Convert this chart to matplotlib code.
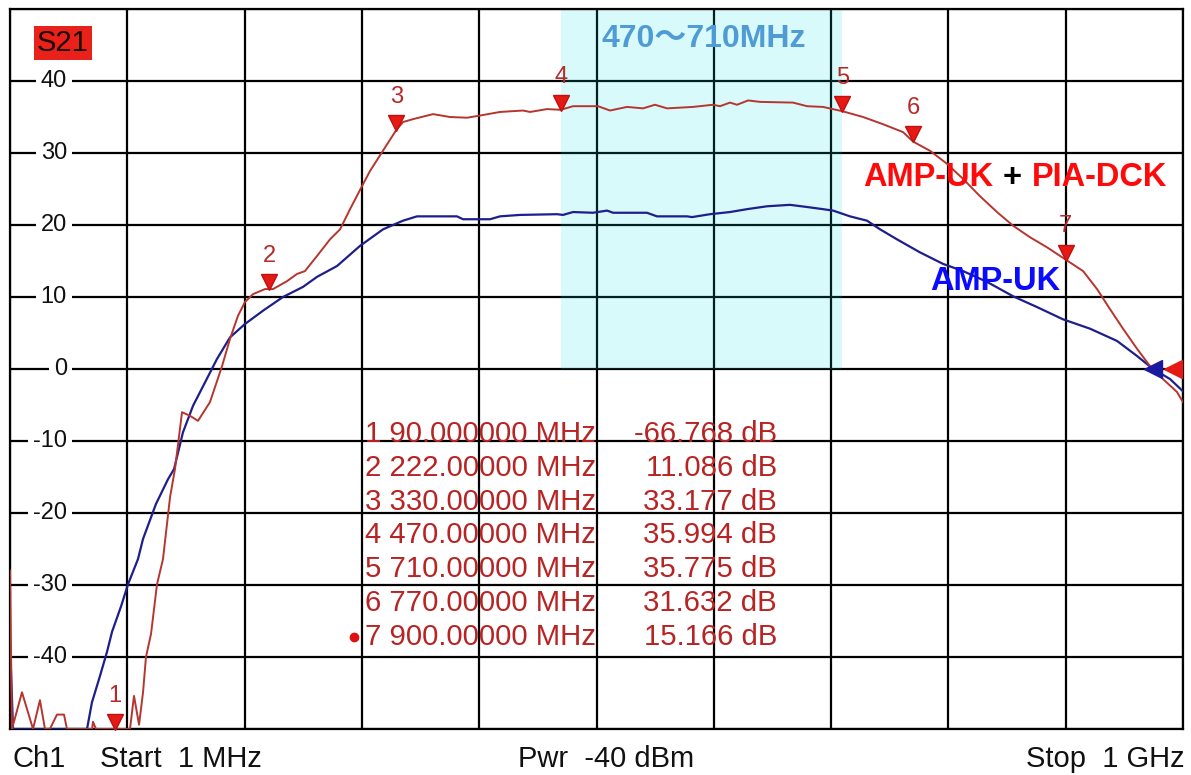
import matplotlib
matplotlib.use('Agg')
import matplotlib.pyplot as plt
import numpy as np
from matplotlib import transforms

plt.rcParams['font.family'] = ['Liberation Sans', 'Noto Sans CJK JP', 'DejaVu Sans']

# ---------------- data (MHz, dB) ----------------
red_freq = [1, 2.7, 11.2, 20.6, 26.5, 30.8, 35, 41, 47, 49.5, 70.9, 71.7, 74.2, 103.2,
            106.6, 110.9, 114.3, 116.8, 121.1, 126.2, 131.3, 137.3, 141.5, 147.5, 154.3,
            161.1, 171.3, 181.6, 188.4, 195.2, 201.1, 208, 218.2, 225, 236.9, 245.4,
            252.2, 262.5, 273.5, 282.1, 290.6, 300.8, 307.6, 317.8, 330, 335.7, 344.2,
            361.3, 375.7, 390.2, 401.3, 418.3, 437.9, 443.9, 458.4, 470, 480.5, 501.8,
            512, 526.5, 540.1, 550.3, 560.6, 582.7, 599.7, 605.7, 614.2, 620.2, 629.6,
            639.8, 667.9, 679.8, 693.4, 710, 727.5, 744.5, 761.6, 770, 784.6, 799,
            812.7, 827.1, 841.6, 855.3, 869.7, 884.2, 900, 914.9, 926.8, 937.9, 948.9,
            960.9, 971.9, 983, 994.9, 1000]
red_db = [-28, -50, -44.9, -50, -46, -50, -50, -48, -48, -50, -50, -49, -50, -50,
          -45.4, -49.4, -44.9, -40, -36.8, -29.9, -26.4, -17.8, -13.9, -6.0, -6.5,
          -7.2, -4.6, 0.4, 4.2, 7.4, 9.3, 10.4, 11.1, 11.1, 12.2, 13.2,
          13.6, 15.7, 18.0, 19.4, 22.2, 25.4, 27.5, 30.1, 33.2, 34.3, 34.7,
          35.4, 35.0, 34.9, 35.2, 35.7, 35.9, 35.7, 36.1, 36.0, 36.5, 36.5,
          35.9, 36.4, 36.2, 36.7, 36.2, 36.4, 36.7, 36.5, 37.0, 36.7, 37.3,
          37.1, 37.0, 36.5, 36.4, 35.8, 35.0, 34.0, 32.9, 31.6, 30.3, 28.5,
          26.4, 24.0, 21.8, 19.9, 18.3, 16.9, 15.2, 13.6, 11.1, 8.3, 5.6,
          2.8, 0.4, -1.4, -3.2, -4.6]

blue_freq = [1, 3.6, 66.6, 70.8, 77.7, 83.6, 87.9, 95.5, 101.5, 110, 114.3, 125.3,
             135.6, 140.7, 148.3, 156.9, 165.4, 177.3, 188.4, 201.1, 216.5, 233.5,
             250.5, 262.5, 279.5, 299.1, 318.7, 335.7, 347.6, 381.7, 386.8, 409.8,
             418.3, 435.4, 466.9, 472, 480.5, 497.5, 509.5, 514.6, 543.5, 552, 577.6,
             581.9, 597.2, 614.2, 628.7, 645.7, 665.3, 679.8, 693.4, 702, 716.4, 730.9,
             742, 756.5, 776, 795.6, 812.7, 833.1, 855.3, 875.7, 897.8, 920.8, 943.8,
             960.9, 974.5, 989, 1000]
blue_db = [-38, -50, -50, -46.3, -42.6, -39.3, -36.5, -33, -29.9, -26.4, -23.6, -18.75,
           -15.3, -13.9, -8.8, -5.1, -2.4, 1.4, 4.4, 6.25, 8.1, 10.0,
           11.4, 12.8, 14.3, 17.1, 19.4, 20.6, 21.2, 21.2, 20.8, 20.8,
           21.2, 21.4, 21.5, 21.4, 21.8, 21.7, 22.0, 21.7, 21.7, 21.2, 21.2,
           21.1, 21.5, 21.8, 22.2, 22.6, 22.8, 22.5, 22.2, 22.0, 21.2, 20.6,
           19.4, 18.0, 16.2, 14.6, 13.6, 12.1, 10.1, 8.6, 6.9, 5.6, 3.9,
           1.8, 0.0, -1.4, -3.1]

marker_freq = [90, 222, 330, 470, 710, 770, 900]
marker_db = [-66.768, 11.086, 33.177, 35.994, 35.775, 31.632, 15.166]

band = (470, 710)
ytick_vals = [40, 30, 20, 10, 0, -10, -20, -30, -40]

# ---------------- figure ----------------
W, H = 1191, 775
fig = plt.figure(figsize=(W / 100, H / 100), dpi=100)
L, R, T, B = 10, 1183, 9, 729
ax = fig.add_axes([L / W, 1 - B / H, (R - L) / W, (B - T) / H])
ax.set_xlim(1, 1000)
ax.set_ylim(-50, 50)
ax.set_xticks(np.linspace(1, 1000, 11))
ax.set_yticks(np.arange(-50, 51, 10))
ax.tick_params(length=0, labelbottom=False, labelleft=False)
ax.grid(True, color='black', lw=1.6)
ax.set_axisbelow(True)
for s in ax.spines.values():
    s.set_linewidth(1.6)


def fx(px):
    return (px - L) / (R - L)


def fy(py):
    return (B - py) / (B - T)


blend = transforms.blended_transform_factory(ax.transAxes, ax.transData)

# band highlight
ax.axvspan(band[0], band[1], ymin=0.5, ymax=1, facecolor=(0, 0.88, 0.88), alpha=0.15,
           lw=0, zorder=1)
ax.text((band[0] + band[1]) / 2 + 2, 45.9, '470〜710MHz', color='#4f9bd5', fontsize=23,
        fontweight='bold', ha='center', va='center', zorder=5,
        family=['Liberation Sans', 'Noto Sans CJK JP'])

# traces
ax.plot(blue_freq, blue_db, color='#1e1e8c', lw=1.6, zorder=3)
ax.plot(red_freq, red_db, color='#b6352e', lw=1.4, zorder=4)

# y labels inside
for v in ytick_vals:
    ax.text(fx(67), v, str(v), transform=blend, ha='right', va='center', fontsize=17,
            color='#111111', bbox=dict(fc='white', ec='none', pad=3.5), zorder=6)

# markers
mk_y = np.clip(marker_db, -50, 50)
tri_tr = transforms.offset_copy(ax.transData, fig=fig, x=0, y=5, units='points')
ax.plot(marker_freq, mk_y, ls='none', marker='v', markersize=11, color='#e51a14',
        markeredgecolor='#c01010', transform=tri_tr, clip_on=False, zorder=7)
for i, (f, v) in enumerate(zip(marker_freq, mk_y)):
    ax.annotate(str(i + 1), (f, v), xytext=(0, 24), textcoords='offset points',
                ha='center', va='center', fontsize=17, color='#b52a28', zorder=7,
                annotation_clip=False)

# reference arrows at right
ax.plot([974.5], [0], ls='none', marker='<', markersize=13, color='#1a1aa0', zorder=7,
        clip_on=False)
ax.plot([991.5], [0], ls='none', marker='<', markersize=13, color='#e51a14', zorder=7,
        clip_on=False)

# marker table
for i, (f, v) in enumerate(zip(marker_freq, marker_db)):
    ypix = 434 + 33.8 * i
    fs = f"{f:.6f}" if f < 100 else f"{f:.5f}"
    ax.text(fx(365), fy(ypix), f"{i + 1} {fs} MHz", transform=ax.transAxes,
            ha='left', va='center', fontsize=21.2, color='#b82424', zorder=6)
    ax.text(fx(777), fy(ypix), f"{v:.3f} dB", transform=ax.transAxes,
            ha='right', va='center', fontsize=21.2, color='#b82424', zorder=6)
ax.plot([fx(354)], [fy(637)], transform=ax.transAxes, marker='o', markersize=6,
        color='#e01010', zorder=6)

# S21 badge
ax.text(fx(63), fy(43), 'S21', transform=ax.transAxes, ha='center', va='center',
        fontsize=21, color='#1a0000',
        bbox=dict(fc='#e8211b', ec='none', pad=2), zorder=6)

# trace labels
ax.text(fx(863), fy(178), 'AMP-UK', transform=ax.transAxes, ha='left', va='center',
        fontsize=23.5, fontweight='bold', color='#ff0a0a', zorder=6)
ax.text(fx(1003), fy(178), '+', transform=ax.transAxes, ha='left', va='center',
        fontsize=23.5, fontweight='bold', color='black', zorder=6)
ax.text(fx(1032), fy(178), 'PIA-DCK', transform=ax.transAxes, ha='left', va='center',
        fontsize=23.5, fontweight='bold', color='#ff0a0a', zorder=6)
ax.text(fx(930), fy(281), 'AMP-UK', transform=ax.transAxes, ha='left', va='center',
        fontsize=23.5, fontweight='bold', color='#0a0aff', zorder=6)

# bottom annotations
by = 1 - 759 / H
fig.text(12 / W, by, 'Ch1', ha='left', va='center', fontsize=21, color='#111111')
fig.text(100 / W, by, 'Start  1 MHz', ha='left', va='center', fontsize=21, color='#111111')
fig.text(606 / W, by, 'Pwr  -40 dBm', ha='center', va='center', fontsize=21, color='#111111')
fig.text(1185 / W, by, 'Stop  1 GHz', ha='right', va='center', fontsize=21, color='#111111')

fig.savefig('out.png', dpi=100, facecolor='white')
